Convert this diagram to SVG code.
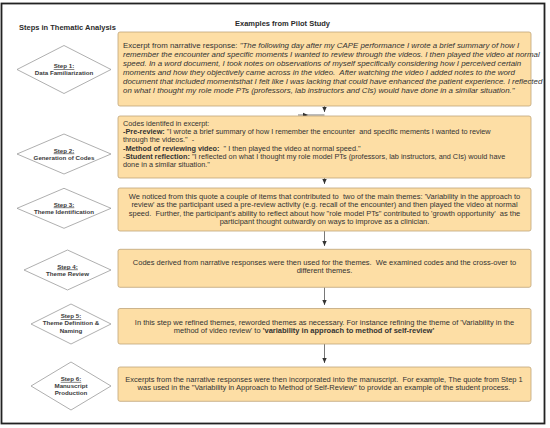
<svg xmlns="http://www.w3.org/2000/svg" width="550" height="428" viewBox="0 0 550 428">
<style>
text{font-family:"Liberation Sans",Arial,sans-serif;fill:#333;white-space:pre}
.title{font-size:7.5px;font-weight:bold;fill:#2b2b2b}
.box{fill:#FDDEA5;stroke:#BFA47A;stroke-width:0.8}
.dia{fill:#fff;stroke:#9a9a9a;stroke-width:0.8}
.dt{font-size:6.2px;font-weight:bold;text-anchor:middle;fill:#3a3a3a}
.u{text-decoration:underline}
.b1{font-size:7.9px}
.b2{font-size:7.3px}
.bc{font-size:7.5px;text-anchor:middle}
.it{font-style:italic}
.bd{font-weight:bold}
.con{stroke:#555;stroke-width:0.8;fill:none}
</style>
<defs>
<marker id="ah" markerWidth="6" markerHeight="6" refX="5" refY="3" orient="auto" markerUnits="userSpaceOnUse">
<path d="M0,0.8 L5,3 L0,5.2 Z" fill="#333"/>
</marker>
</defs>
<rect x="1.5" y="3.5" width="543" height="420" fill="#fff" stroke="#222" stroke-width="1.8"/>
<text class="title" x="19" y="29.7">Steps in Thematic Analysis</text>
<text class="title" x="282.5" y="26" text-anchor="middle">Examples from Pilot Study</text>

<g id="connectors">
<line class="con" x1="324.5" y1="106" x2="324.5" y2="112" marker-end="url(#ah)"/>
<line class="con" x1="298" y1="115" x2="308" y2="115" marker-end="url(#ah)"/>
<line class="con" x1="308" y1="115" x2="324.5" y2="115"/>
<line class="con" x1="324.5" y1="178" x2="324.5" y2="184" marker-end="url(#ah)"/>
<line class="con" x1="324.5" y1="231" x2="324.5" y2="246" marker-end="url(#ah)"/>
<line class="con" x1="324.5" y1="287.3" x2="324.5" y2="305" marker-end="url(#ah)"/>
<line class="con" x1="324.5" y1="344" x2="324.5" y2="363" marker-end="url(#ah)"/>
</g>

<g id="step1">
<polygon class="dia" points="17,69.5 64,45.5 111,69.5 64,93.5"/>
<text class="dt" x="64" y="68"><tspan class="u">Step 1:</tspan></text>
<text class="dt" x="64" y="75.2">Data Familiarization</text>
</g>
<g id="step2">
<polygon class="dia" points="17,154 64,134 111,154 64,174"/>
<text class="dt" x="64" y="152.5"><tspan class="u">Step 2:</tspan></text>
<text class="dt" x="64" y="159.7">Generation of Codes</text>
</g>
<g id="step3">
<polygon class="dia" points="17,208.3 64,188.3 111,208.3 64,228.3"/>
<text class="dt" x="64" y="206.5"><tspan class="u">Step 3:</tspan></text>
<text class="dt" x="64" y="213.7">Theme Identification</text>
</g>
<g id="step4">
<polygon class="dia" points="24,270 67.5,250 111,270 67.5,290"/>
<text class="dt" x="67.5" y="268.5"><tspan class="u">Step 4:</tspan></text>
<text class="dt" x="67.5" y="275.7">Theme Review</text>
</g>
<g id="step5">
<polygon class="dia" points="31,324 71,304 111,324 71,344"/>
<text class="dt" x="71" y="318.2"><tspan class="u">Step 5:</tspan></text>
<text class="dt" x="71" y="325.4">Theme Definition &amp;</text>
<text class="dt" x="71" y="332.6">Naming</text>
</g>
<g id="step6">
<polygon class="dia" points="31,386 71,362 111,386 71,410"/>
<text class="dt" x="71" y="380.9"><tspan class="u">Step 6:</tspan></text>
<text class="dt" x="71" y="388.1">Manuscript</text>
<text class="dt" x="71" y="395.3">Production</text>
</g>

<g id="example1">
<rect class="box" x="118" y="32" width="413" height="74" rx="2"/>
<text class="b1" x="123" y="48.2">Excerpt from narrative response: <tspan class="it">"The following day after my CAPE performance I wrote a brief summary of how I</tspan></text>
<text class="b1 it" x="123" y="57.1">remember the encounter and specific moments I wanted to review through the videos. I then played the video at normal</text>
<text class="b1 it" x="123" y="66">speed. In a word document, I took notes on observations of myself specifically considering how I perceived certain</text>
<text class="b1 it" x="123" y="74.9">moments and how they objectively came across in the video.  After watching the video I added notes to the word</text>
<text class="b1 it" x="123" y="83.8">document that included momentsthat I felt like I was lacking that could have enhanced the patient experience. I reflected</text>
<text class="b1 it" x="123" y="92.7">on what I thought my role mode PTs (professors, lab instructors and CIs) would have done in a similar situation."</text>
</g>

<g id="example2">
<rect class="box" x="118" y="116" width="413" height="62" rx="2"/>
<text class="b2" x="123" y="126">Codes identifed in excerpt:</text>
<text class="b2" x="123" y="134.2"><tspan class="bd">-Pre-review:</tspan> "I wrote a brief summary of how I remember the encounter  and specific mements I wanted to review</text>
<text class="b2" x="123" y="142.4">through the videos."  -</text>
<text class="b2" x="123" y="150.6"><tspan class="bd">-Method of reviewing video:</tspan>  " I then played the video at normal speed."</text>
<text class="b2" x="123" y="158.8">-<tspan class="bd">Student reflection:</tspan> "I reflected on what I thought my role model PTs (professors, lab instructors, and CIs) would have</text>
<text class="b2" x="123" y="167">done in a similar situation."</text>
</g>

<g id="example3">
<rect class="box" x="118" y="188" width="413" height="43" rx="2"/>
<text class="bc" x="324.5" y="198.8">We noticed from this quote a couple of items that contributed to  two of the main themes: 'Variability in the approach to</text>
<text class="bc" x="324.5" y="207.2">review' as the participant used a pre-review activity (e.g. recall of the encounter) and then played the video at normal</text>
<text class="bc" x="324.5" y="215.6">speed.  Further, the participant's ability to reflect about how "role model PTs" contributed to 'growth opportunity'  as the</text>
<text class="bc" x="324.5" y="224">participant thought outwardly on ways to improve as a clinician.</text>
</g>

<g id="example4">
<rect class="box" x="118" y="249.3" width="413" height="38" rx="2"/>
<text class="bc" x="324.5" y="264.8">Codes derived from narrative responses were then used for the themes.  We examined codes and the cross-over to</text>
<text class="bc" x="324.5" y="273.2">different themes.</text>
</g>

<g id="example5">
<rect class="box" x="118" y="308.5" width="413" height="35.5" rx="2"/>
<text class="bc" x="324.5" y="324.6">In this step we refined themes, reworded themes as necessary. For instance refining the theme of 'Variability in the</text>
<text class="bc" x="304" y="333">method of video review' to <tspan class="bd">'variability in approach to method of self-review'</tspan></text>
</g>

<g id="example6">
<rect class="box" x="118" y="367" width="413" height="34.3" rx="2"/>
<text class="bc" x="324" y="382">Excerpts from the narrative responses were then incorporated into the manuscript.  For example, The quote from Step 1</text>
<text class="bc" x="324" y="390.4">was used in the "Variability in Approach to Method of Self-Review" to provide an example of the student process.</text>
</g>
</svg>
